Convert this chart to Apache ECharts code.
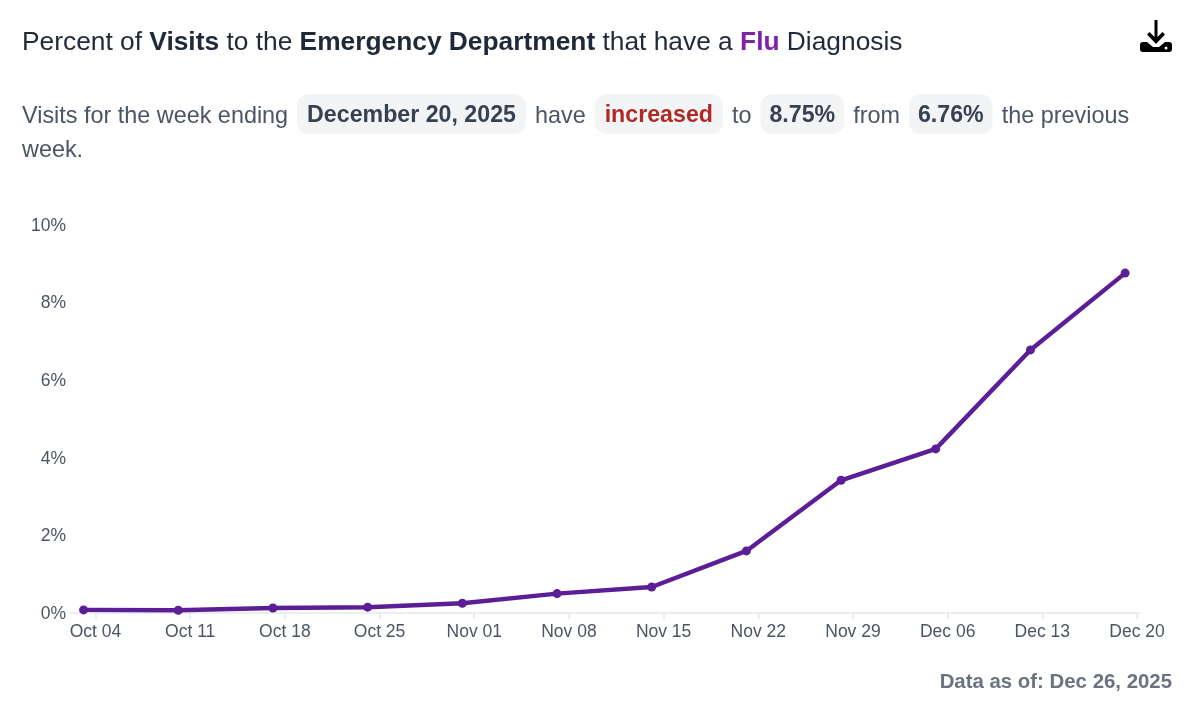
<!DOCTYPE html>
<html><head><meta charset="utf-8">
<style>html,body{margin:0;padding:0;background:#fff}#c{width:1200px;height:712px}</style>
<script src="https://cdn.jsdelivr.net/npm/echarts@6/dist/echarts.min.js"></script>
</head><body><div id="c"></div>
<script>
const tickLabels = ['Oct 04','Oct 11','Oct 18','Oct 25','Nov 01','Nov 08','Nov 15','Nov 22','Nov 29','Dec 06','Dec 13','Dec 20'];
const tickDays = [0,7,14,21,28,35,42,49,56,63,70,77];
const pointDays = [-0.88,6.12,13.12,20.12,27.12,34.12,41.12,48.12,55.12,62.12,69.12,76.12];
const fluPercent = [0.08,0.07,0.13,0.15,0.25,0.50,0.67,1.60,3.42,4.23,6.78,8.76];

const font = '"Liberation Sans", Arial, sans-serif';
const dark = '#1f2937', gray = '#4b5563';
const pill = (color, side) => ({fontFamily:font,fontSize:23.2,fontWeight:'bold',color:color,backgroundColor:'#f3f4f6',borderRadius:12,padding:[10,side,7,side]});
const gap = {width:9,fontSize:23.2};
const chart = echarts.init(document.getElementById('c'), null, {renderer:'canvas'});
chart.setOption({
  animation:false,
  backgroundColor:'#fff',
  title:[
    {left:22,top:30,padding:0,text:'{n|Percent of }{b|Visits}{n| to the }{b|Emergency Department}{n| that have a }{f|Flu}{n| Diagnosis}',
     textStyle:{fontWeight:'normal',rich:{
       n:{fontFamily:font,fontSize:26.33,fontWeight:'normal',color:dark},
       b:{fontFamily:font,fontSize:26.33,fontWeight:'bold',color:dark},
       f:{fontFamily:font,fontSize:26.33,fontWeight:'bold',color:'#7e22a8'}}}},
    {left:22,top:94,padding:0,text:'{n|Visits for the week ending}{g| }{p|December 20, 2025}{g| }{n|have}{g| }{r|increased}{g| }{n|to}{g| }{v|8.75%}{g| }{n|from}{g| }{v|6.76%}{g| }{n|the previous}',
     textStyle:{fontWeight:'normal',rich:{n:{fontFamily:font,fontSize:23.4,fontWeight:'normal',color:gray,padding:[5,0,0,0]},g:gap,p:pill('#374151',10),v:pill('#374151',9),r:pill('#b02a25',10)}}},
    {left:22,top:139,padding:0,text:'week.',textStyle:{fontFamily:font,fontSize:23.4,fontWeight:'normal',color:gray}},
    {right:28,top:672,padding:0,text:'Data as of: Dec 26, 2025',textStyle:{fontFamily:font,fontSize:20.4,fontWeight:'bold',color:'#6b7280'}}
  ],
  toolbox:{right:28,top:20,padding:0,itemSize:32,feature:{saveAsImage:{title:'',
    icon:'path://M14.5 0h3v17l5-5 2.5 2.5L16 24 7 14.5 9.5 12l5 5zM3 22h4l6 5h6l6-5h4c2 0 3 1 3 3v4c0 2-1 3-3 3H3c-2 0-3-1-3-3v-4c0-2 1-3 3-3zM26 26.5a1.5 1.5 0 1 0 0.01 0z'}},
    iconStyle:{color:'#000',borderColor:'#000',borderWidth:0}},
  grid:{left:70,right:60,top:225,bottom:99,containLabel:false},
  xAxis:{type:'value',min:-1.885,max:77.22,
    splitLine:{show:false},
    axisLine:{show:true,lineStyle:{color:'#e5e7eb',width:1.5}},
    axisTick:{show:true,length:6,customValues:tickDays,lineStyle:{color:'#e5e7eb',width:1.5}},
    axisLabel:{show:true,customValues:tickDays,margin:10,fontFamily:font,fontSize:17.5,color:gray,hideOverlap:false,
      showMinLabel:true,showMaxLabel:true,
      formatter:v=>tickLabels[tickDays.indexOf(v)]||''}},
  yAxis:{type:'value',min:0,max:10,interval:2,
    splitLine:{show:false},axisLine:{show:false},axisTick:{show:false},
    axisLabel:{margin:4,fontFamily:font,fontSize:17.5,color:gray,formatter:v=>'{a|'+v+'%}',
      rich:{a:{fontFamily:font,fontSize:17.5,color:gray,padding:[2,0,0,0]}}}},
  series:[{type:'line',data:pointDays.map((d,i)=>[d,fluPercent[i]]),
    symbol:'circle',symbolSize:9,showSymbol:true,clip:false,
    lineStyle:{color:'#5b1e96',width:4.4},itemStyle:{color:'#5b1e96'}}]
});
</script></body></html>
